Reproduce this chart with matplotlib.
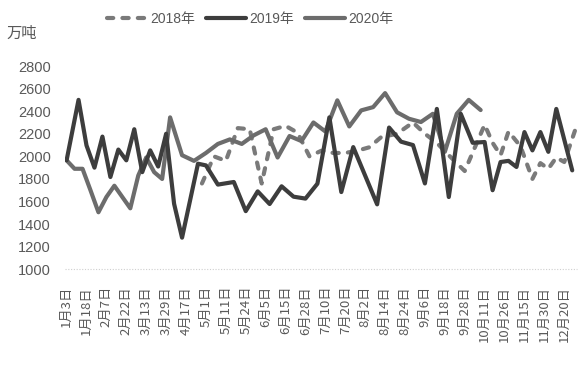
import matplotlib
matplotlib.use("Agg")
import matplotlib.pyplot as plt

plt.rcParams['font.family'] = ['Liberation Sans', 'Noto Sans CJK SC', 'DejaVu Sans']

# ---- data ----
tick_labels = ["1月3日", "1月18日", "2月7日", "2月22日", "3月13日", "3月29日", "4月17日",
               "5月1日", "5月11日", "5月24日", "6月5日", "6月15日", "6月28日", "7月10日",
               "7月20日", "8月2日", "8月14日", "8月24日", "9月6日", "9月18日", "9月28日",
               "10月11日", "10月26日", "11月15日", "11月30日", "12月20日"]
label_every = 5          # one label every 5 categories
n_categories = 129

idx_2018 = [34, 37, 40, 43, 46, 49, 52, 55, 58, 61, 64, 67, 70, 73, 76, 79, 83, 87, 90, 93,
            95, 100, 105, 107, 109, 111, 114, 117, 119, 121, 123, 125, 128]
val_2018 = [1760, 2000, 1960, 2250, 2240, 1760, 2240, 2270, 2210, 2000, 2050, 2030, 2030, 2050,
            2080, 2170, 2200, 2300, 2200, 2120, 2045, 1870, 2280, 2120, 2010, 2220, 2090, 1800,
            1940, 1890, 1990, 1950, 2260]

idx_2019 = [0, 3, 5, 7, 9, 11, 13, 15, 17, 19, 21, 23, 25, 27, 29, 33, 35, 38, 42, 45, 48, 51,
            54, 57, 60, 63, 66, 69, 72, 78, 81, 84, 87, 90, 93, 96, 99, 102, 105, 107, 109, 111,
            113, 115, 117, 119, 121, 123, 127]
val_2019 = [1965, 2500, 2097, 1900, 2175, 1817, 2060, 1965, 2240, 1860, 2053, 1910, 2200, 1580,
            1280, 1935, 1920, 1750, 1773, 1515, 1690, 1578, 1735, 1643, 1626, 1758, 2345, 1684,
            2082, 1575, 2255, 2130, 2100, 1760, 2420, 1640, 2377, 2120, 2127, 1700, 1950, 1960,
            1906, 2215, 2053, 2215, 2040, 2420, 1876]

idx_2020 = [0, 2, 4, 6, 8, 10, 12, 14, 16, 18, 20, 22, 24, 26, 29, 32, 35, 38, 41, 44, 47, 50,
            53, 56, 59, 62, 65, 68, 71, 74, 77, 80, 83, 86, 89, 92, 95, 98, 101, 104]
val_2020 = [1965, 1890, 1890, 1700, 1505, 1640, 1740, 1640, 1540, 1830, 1990, 1860, 1800, 2345,
            2010, 1960, 2030, 2110, 2150, 2110, 2186, 2240, 1990, 2180, 2135, 2300, 2220, 2496,
            2265, 2407, 2436, 2560, 2390, 2333, 2304, 2377, 2040, 2377, 2500, 2410]

series_names = ["2018年", "2019年", "2020年"]
y_ticks = [1000, 1200, 1400, 1600, 1800, 2000, 2200, 2400, 2600, 2800]

# ---- figure ----
W, H = 583, 382
fig = plt.figure(figsize=(W / 100, H / 100), dpi=100)
ax = fig.add_axes([65 / W, 1 - 269.3 / H, (577 - 65) / W, (269.3 - 66) / H])

c18, c19, c20 = '#7a7a7a', '#3d3d3d', '#6c6c6c'
lw = 3.0
ax.plot(idx_2018, val_2018, color=c18, lw=lw, linestyle=(0, (1.5, 2.2)),
        dash_capstyle='round', solid_joinstyle='round', label=series_names[0], zorder=3)
ax.plot(idx_2019, val_2019, color=c19, lw=lw, solid_joinstyle='round',
        solid_capstyle='round', label=series_names[1], zorder=4)
ax.plot(idx_2020, val_2020, color=c20, lw=lw, solid_joinstyle='round',
        solid_capstyle='round', label=series_names[2], zorder=3)

ax.set_xlim(-0.4, 128.2)
ax.set_ylim(1000, 2800)
ax.axhline(1000, color='#cfcfcf', lw=0.8, linestyle=(0, (1, 1.5)), zorder=1, clip_on=False)

ax.set_yticks(y_ticks)
ax.set_yticklabels([str(v) for v in y_ticks], fontsize=10.5, color='#595959')
ax.set_xticks(list(range(0, n_categories, label_every))[:len(tick_labels)])
ax.set_xticklabels(tick_labels, rotation=90, fontsize=9.5, color='#595959',
                   family=['Noto Sans CJK SC', 'DejaVu Sans'], va='top', ha='center')
ax.tick_params(axis='both', length=0)
ax.tick_params(axis='y', pad=10)
ax.tick_params(axis='x', pad=12)
for s in ax.spines.values():
    s.set_visible(False)

fig.text(6 / W, 1 - 33 / H, "万吨", fontsize=11, color='#595959',
         family=['Noto Sans CJK SC', 'DejaVu Sans'], ha='left', va='center')

leg = fig.legend(loc='center', bbox_to_anchor=(250 / W, 1 - 19 / H), ncol=3,
                 frameon=False, fontsize=10, handlelength=2.9, handletextpad=0.2,
                 columnspacing=0.8, labelcolor='#595959')

fig.savefig("out.png", dpi=100, facecolor='white')
